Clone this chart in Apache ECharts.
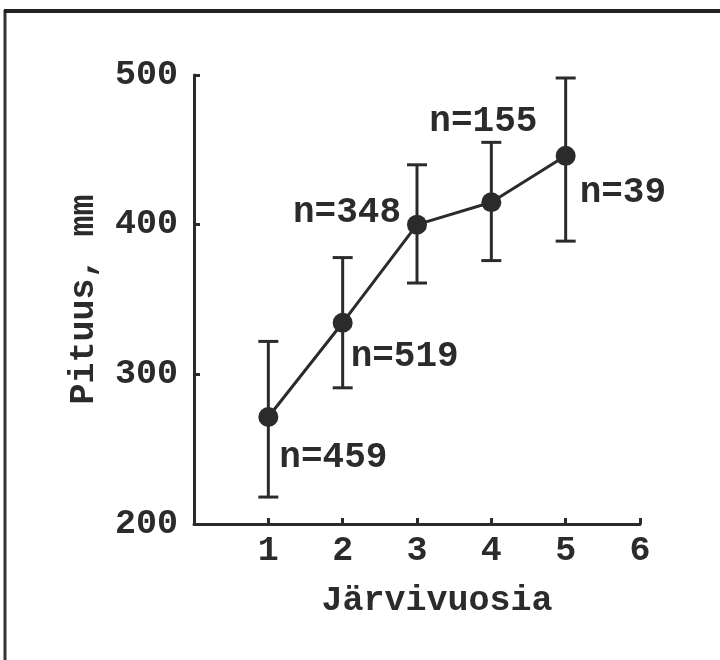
<!DOCTYPE html>
<html>
<head>
<meta charset="utf-8">
<script src="https://cdn.jsdelivr.net/npm/echarts@6/dist/echarts.min.js"></script>
<style>
  html, body { margin: 0; padding: 0; background: #fff; }
  #pituus { width: 720px; height: 660px; }
</style>
</head>
<body>
<div id="pituus"></div>
<script>
// data
var years = [1, 2, 3, 4, 5];
var meanLen = [271.5, 334.5, 400, 415, 446];
var upperLen = [322, 378, 440, 455, 498];
var lowerLen = [218, 291, 361, 376, 389];
var nLabels = ['n=459', 'n=519', 'n=348', 'n=155', 'n=39'];

// where each n-label sits relative to its point
var labelPlace = [
    { align: 'left', offset: [11, 41] },
    { align: 'left', offset: [8, 34] },
    { align: 'right', offset: [-16, -12] },
    { align: 'center', offset: [-8, -80] },
    { align: 'left', offset: [14, 37] }
];

var ink = '#2b2b2b';
var mono = 'Liberation Mono';

var lineData = years.map(function (x, i) {
    return {
        value: [x, meanLen[i]],
        label: {
            show: true,
            position: 'inside',
            formatter: nLabels[i],
            align: labelPlace[i].align,
            verticalAlign: 'middle',
            offset: labelPlace[i].offset
        }
    };
});

var errData = years.map(function (x, i) {
    return [x, lowerLen[i], upperLen[i]];
});

var axisCommon = {
    axisLine: { lineStyle: { color: ink, width: 3 } },
    axisTick: { inside: true, length: 6, lineStyle: { color: ink, width: 3 } },
    splitLine: { show: false },
    axisLabel: { color: ink, fontFamily: mono, fontWeight: 'bold', fontSize: 35 },
    nameTextStyle: { color: ink, fontFamily: mono, fontWeight: 'bold', fontSize: 35 }
};

var pituus = {
    backgroundColor: '#fff',
    animation: false,
    grid: { left: 194, right: 80, top: 75, bottom: 136 },
    xAxis: echarts.util.merge({
        type: 'value',
        min: 0,
        max: 6,
        interval: 1,
        name: 'Järvivuosia',
        nameLocation: 'middle',
        nameGap: 60,
        axisLabel: {
            margin: 10,
            formatter: function (v) { return v === 0 ? '' : v; }
        },
        nameTextStyle: { padding: [0, 0, 0, 40] }
    }, axisCommon),
    yAxis: echarts.util.merge({
        type: 'value',
        min: 200,
        max: 500,
        interval: 100,
        name: 'Pituus, mm',
        nameLocation: 'middle',
        nameGap: 92,
        axisLabel: { margin: 16 }
    }, axisCommon),
    graphic: [
        { type: 'line', shape: { x1: 5, y1: 10, x2: 5, y2: 660 }, style: { stroke: '#333', lineWidth: 3 } },
        { type: 'line', shape: { x1: 4, y1: 11, x2: 720, y2: 11 }, style: { stroke: '#222', lineWidth: 4 } }
    ],
    series: [
        {
            name: 'virhe',
            type: 'custom',
            data: errData,
            z: 2,
            renderItem: function (params, api) {
                var lo = api.coord([api.value(0), api.value(1)]);
                var hi = api.coord([api.value(0), api.value(2)]);
                var cap = 10;
                var st = { stroke: ink, lineWidth: 3 };
                return {
                    type: 'group',
                    children: [
                        { type: 'line', shape: { x1: lo[0], y1: lo[1], x2: hi[0], y2: hi[1] }, style: st },
                        { type: 'line', shape: { x1: hi[0] - cap, y1: hi[1], x2: hi[0] + cap, y2: hi[1] }, style: st },
                        { type: 'line', shape: { x1: lo[0] - cap, y1: lo[1], x2: lo[0] + cap, y2: lo[1] }, style: st }
                    ]
                };
            }
        },
        {
            name: 'Pituus',
            type: 'line',
            data: lineData,
            z: 3,
            symbol: 'circle',
            symbolSize: 20,
            lineStyle: { color: ink, width: 3 },
            itemStyle: { color: ink },
            label: {
                color: ink,
                fontFamily: mono,
                fontWeight: 'bold',
                fontSize: 36
            }
        }
    ]
};

var chartPituus = echarts.init(document.getElementById('pituus'));
chartPituus.setOption(pituus);
</script>
</body>
</html>
